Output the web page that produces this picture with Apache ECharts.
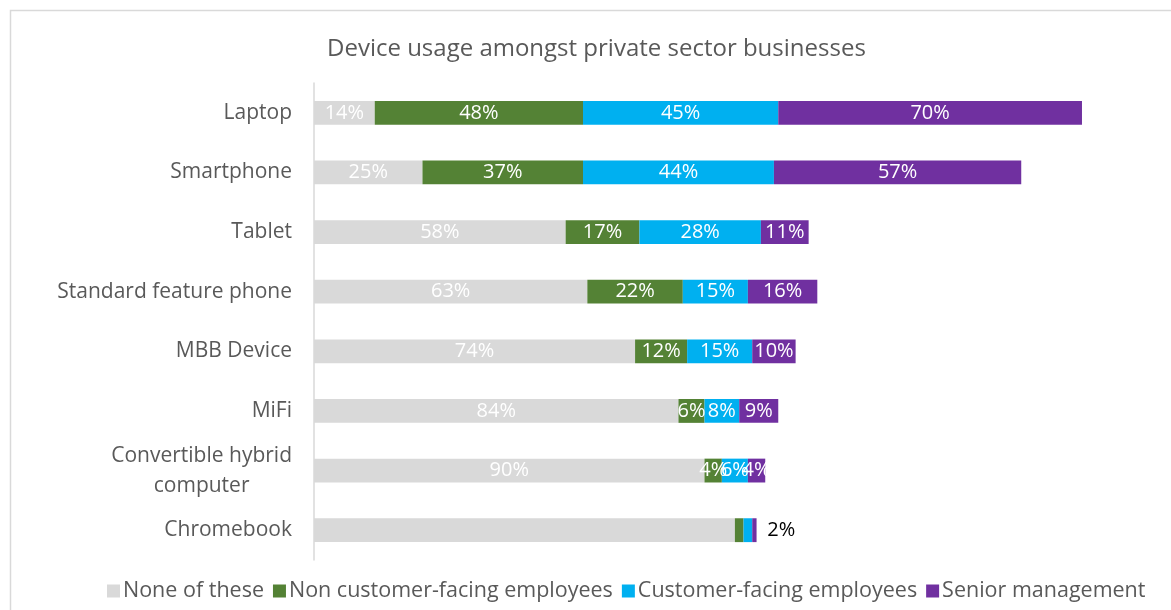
<!DOCTYPE html>
<html>
<head>
<meta charset="utf-8">
<script src="https://cdn.jsdelivr.net/npm/echarts@6/dist/echarts.min.js"></script>
<style>
  html, body { margin: 0; padding: 0; background: #fff; }
  #chart { width: 1171px; height: 610px; }
</style>
</head>
<body>
<div id="chart"></div>
<script>
// Device categories, top to bottom
const devices = [
  'Laptop', 'Smartphone', 'Tablet', 'Standard feature phone',
  'MBB Device', 'MiFi', 'Convertible hybrid computer', 'Chromebook'
];
// Share of businesses (%) per user group
const noneOfThese   = [14, 25, 58, 63, 74, 84, 90, 97];
const nonCustomer   = [48, 37, 17, 22, 12, 6, 4, 2];
const customerFacing = [45, 44, 28, 15, 15, 8, 6, 2];
const seniorMgmt    = [70, 57, 11, 16, 10, 9, 4, 1];

const seriesNames = ['None of these', 'Non customer-facing employees', 'Customer-facing employees', 'Senior management'];
const seriesData = [noneOfThese, nonCustomer, customerFacing, seniorMgmt];
const colors = ['#D9D9D9', '#548235', '#00B0F0', '#7030A0'];

const FONT = '"Open Sans", sans-serif';
const lastIdx = devices.length - 1;

const series = seriesData.map((vals, s) => ({
  name: seriesNames[s],
  type: 'bar',
  stack: 'total',
  barWidth: '40%',
  itemStyle: { color: colors[s] },
  label: {
    show: true,
    position: 'inside',
    color: '#fff',
    fontFamily: FONT,
    fontSize: 20,
    formatter: p => p.value + '%'
  },
  data: vals.map((v, i) => {
    if (i !== lastIdx) return v;
    // Chromebook: slices are too thin for inside labels; one label sits to the right
    if (s === 2) {
      return {
        value: v,
        label: { show: true, position: 'right', distance: 15, color: '#000', fontSize: 20 }
      };
    }
    return { value: v, label: { show: false } };
  })
}));

const chart = echarts.init(document.getElementById('chart'));
chart.setOption({
  animation: false,
  color: colors,
  title: {
    text: 'Device usage amongst private sector businesses',
    left: 322,
    top: 32,
    textStyle: { fontFamily: FONT, fontSize: 24, fontWeight: 'normal', color: '#595959' }
  },
  graphic: [{
    type: 'rect',
    shape: { x: 10.5, y: 10.5, width: 1300, height: 800 },
    style: { fill: 'none', stroke: '#D9D9D9', lineWidth: 1.5 },
    silent: true,
    z: -1
  }],
  legend: {
    bottom: 3,
    left: 102,
    itemWidth: 13,
    itemHeight: 13,
    itemGap: 9,
    icon: 'rect',
    textStyle: { fontFamily: FONT, fontSize: 21.5, color: '#595959', padding: [0, 0, 0, -2] },
    data: seriesNames
  },
  grid: { left: 314, right: 76, top: 83, bottom: 50, containLabel: false },
  xAxis: {
    type: 'value',
    min: 0,
    max: 180,
    show: false
  },
  yAxis: {
    type: 'category',
    inverse: true,
    data: devices,
    axisLine: { show: true, lineStyle: { color: '#D9D9D9', width: 1.5 } },
    axisTick: { show: false },
    axisLabel: {
      margin: 22,
      fontFamily: FONT,
      fontSize: 21,
      color: '#595959',
      formatter: v => v === 'Convertible hybrid computer'
        ? '{c|Convertible hybrid}\n{c|computer}'
        : v,
      rich: {
        c: { align: 'center', fontFamily: FONT, fontSize: 21, color: '#595959', lineHeight: 30 }
      }
    }
  },
  series
});
</script>
</body>
</html>
